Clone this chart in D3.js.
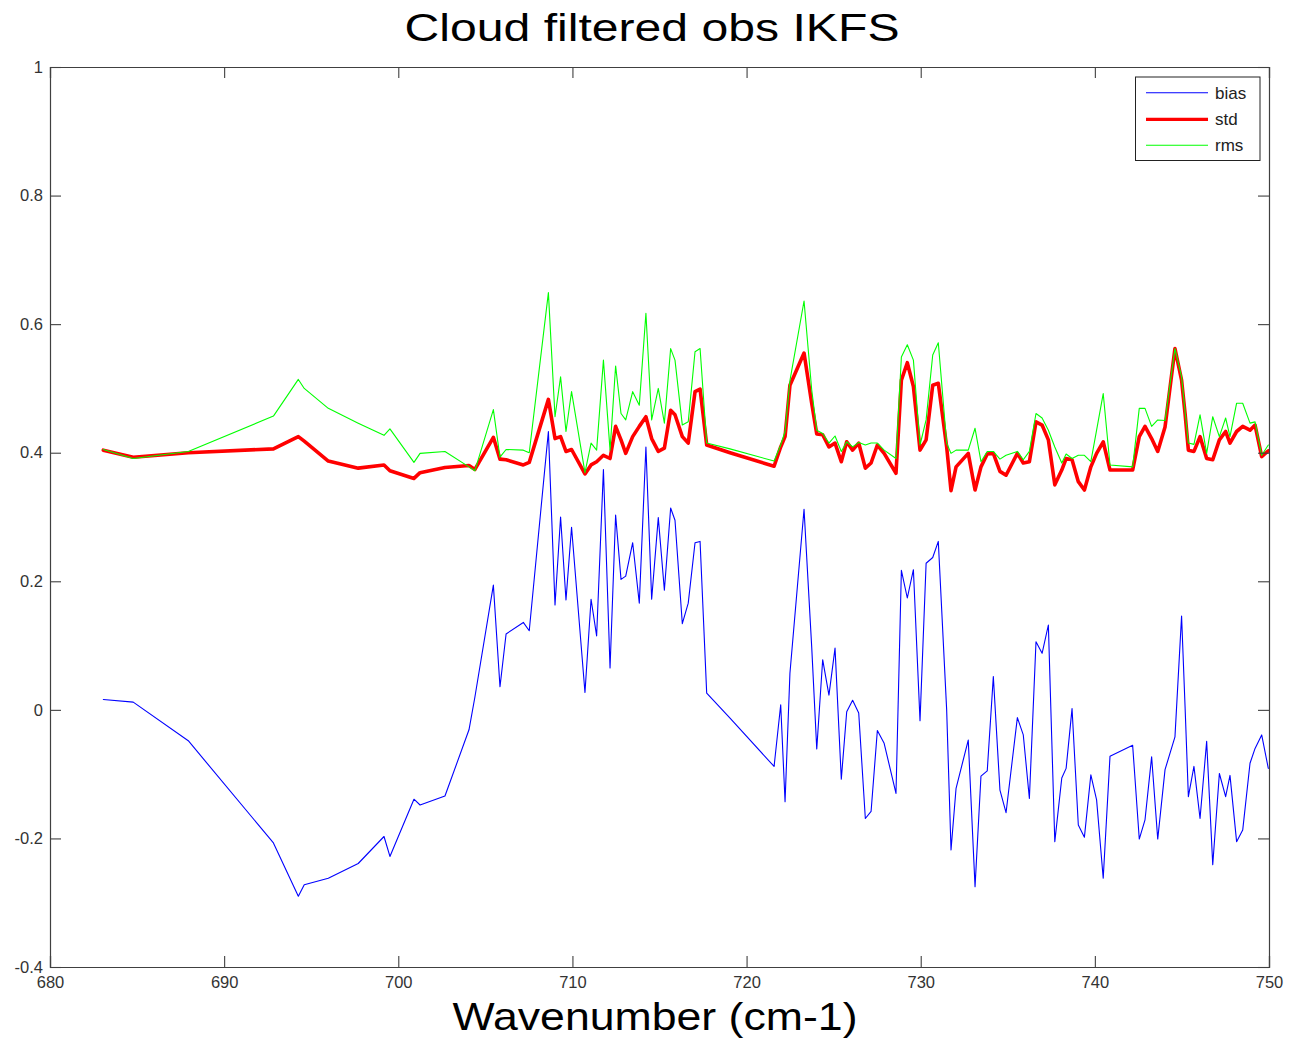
<!DOCTYPE html>
<html>
<head>
<meta charset="utf-8">
<script src="https://cdn.jsdelivr.net/npm/d3@7"></script>
<style>
  html, body { margin: 0; padding: 0; background: #fff; }
  svg { display: block; font-family: "Liberation Sans", Arial, Helvetica, sans-serif; }
</style>
</head>
<body>
<svg id="chart" width="1291" height="1045"></svg>
<script>
const wavenumber = [
  683.06, 684.78, 687.94, 692.83, 694.26, 694.60, 695.98, 697.70, 699.18, 699.52,
  700.90, 701.25, 702.68, 704.06, 704.40, 705.46, 705.84, 706.19, 707.18, 707.52,
  708.62, 709.00, 709.32, 709.63, 709.95, 710.72, 711.07, 711.39, 711.78, 712.16,
  712.48, 712.79, 713.06, 713.46, 713.84, 714.22, 714.55, 714.93, 715.28, 715.64,
  715.89, 716.31, 716.65, 717.04, 717.33, 717.71, 719.05, 721.58, 721.96, 722.21,
  722.49, 723.30, 723.74, 724.03, 724.37, 724.73, 725.08, 725.44, 725.75, 726.09,
  726.44, 726.82, 727.15, 727.51, 727.90, 728.58, 728.89, 729.23, 729.58, 729.96,
  730.31, 730.69, 731.01, 731.49, 731.74, 732.03, 732.73, 733.12, 733.46, 733.82,
  734.17, 734.55, 734.90, 735.55, 735.89, 736.24, 736.62, 736.97, 737.33, 737.70,
  738.10, 738.35, 738.69, 739.05, 739.40, 739.77, 740.10, 740.48, 740.87, 742.17,
  742.55, 742.88, 743.26, 743.61, 744.03, 744.60, 744.98, 745.18, 745.37, 745.69,
  746.04, 746.42, 746.77, 747.15, 747.51, 747.76, 748.14, 748.49, 748.91, 749.20,
  749.58, 749.96
];
const bias = [
  0.016, 0.012, -0.048, -0.207, -0.290, -0.272, -0.262, -0.239, -0.197, -0.228,
  -0.139, -0.148, -0.134, -0.031, 0.020, 0.194, 0.036, 0.118, 0.136, 0.123,
  0.433, 0.163, 0.300, 0.171, 0.284, 0.027, 0.172, 0.115, 0.374, 0.065,
  0.303, 0.203, 0.208, 0.260, 0.166, 0.409, 0.172, 0.299, 0.186, 0.314,
  0.295, 0.134, 0.166, 0.260, 0.262, 0.026, -0.013, -0.088, 0.008, -0.143,
  0.057, 0.312, 0.098, -0.061, 0.078, 0.023, 0.096, -0.108, -0.003, 0.015,
  -0.005, -0.169, -0.158, -0.032, -0.052, -0.130, 0.217, 0.174, 0.218, -0.017,
  0.228, 0.237, 0.262, 0.000, -0.218, -0.122, -0.047, -0.275, -0.103, -0.095,
  0.052, -0.125, -0.160, -0.012, -0.039, -0.138, 0.106, 0.088, 0.132, -0.205,
  -0.106, -0.091, 0.002, -0.179, -0.198, -0.101, -0.140, -0.262, -0.072, -0.055,
  -0.201, -0.171, -0.073, -0.201, -0.093, -0.042, 0.146, 0.005, -0.135, -0.088,
  -0.169, -0.049, -0.241, -0.099, -0.135, -0.102, -0.205, -0.187, -0.083, -0.060,
  -0.039, -0.091
];
const stdev = [
  0.404, 0.393, 0.400, 0.406, 0.425, 0.418, 0.387, 0.376, 0.381, 0.372,
  0.360, 0.369, 0.377, 0.380, 0.374, 0.424, 0.390, 0.389, 0.381, 0.385,
  0.483, 0.422, 0.425, 0.402, 0.405, 0.367, 0.381, 0.386, 0.396, 0.391,
  0.441, 0.420, 0.399, 0.425, 0.441, 0.456, 0.422, 0.402, 0.407, 0.466,
  0.459, 0.425, 0.415, 0.495, 0.499, 0.412, 0.400, 0.379, 0.409, 0.425,
  0.505, 0.555, 0.477, 0.429, 0.428, 0.409, 0.415, 0.386, 0.417, 0.404,
  0.415, 0.376, 0.384, 0.412, 0.399, 0.368, 0.513, 0.540, 0.503, 0.404,
  0.420, 0.505, 0.508, 0.409, 0.341, 0.378, 0.399, 0.342, 0.378, 0.398,
  0.399, 0.371, 0.365, 0.399, 0.384, 0.386, 0.448, 0.443, 0.420, 0.350,
  0.373, 0.391, 0.389, 0.355, 0.342, 0.378, 0.399, 0.417, 0.373, 0.373,
  0.425, 0.441, 0.422, 0.402, 0.440, 0.562, 0.513, 0.461, 0.404, 0.402,
  0.425, 0.391, 0.389, 0.420, 0.433, 0.415, 0.433, 0.441, 0.435, 0.443,
  0.394, 0.403
];
const rms = [
  0.405, 0.391, 0.402, 0.457, 0.514, 0.500, 0.469, 0.446, 0.427, 0.437,
  0.385, 0.399, 0.402, 0.378, 0.372, 0.467, 0.393, 0.405, 0.404, 0.400,
  0.649, 0.456, 0.518, 0.433, 0.495, 0.369, 0.415, 0.404, 0.544, 0.404,
  0.535, 0.461, 0.451, 0.495, 0.474, 0.617, 0.451, 0.500, 0.446, 0.562,
  0.544, 0.443, 0.448, 0.557, 0.562, 0.415, 0.406, 0.387, 0.412, 0.433,
  0.512, 0.636, 0.498, 0.435, 0.430, 0.415, 0.426, 0.402, 0.417, 0.409,
  0.416, 0.412, 0.415, 0.415, 0.404, 0.391, 0.549, 0.568, 0.544, 0.412,
  0.451, 0.552, 0.571, 0.415, 0.399, 0.404, 0.404, 0.438, 0.386, 0.402,
  0.402, 0.390, 0.396, 0.402, 0.389, 0.402, 0.461, 0.454, 0.435, 0.409,
  0.384, 0.398, 0.391, 0.396, 0.396, 0.386, 0.435, 0.492, 0.381, 0.378,
  0.469, 0.469, 0.441, 0.451, 0.450, 0.562, 0.518, 0.464, 0.415, 0.413,
  0.459, 0.399, 0.456, 0.425, 0.454, 0.425, 0.477, 0.477, 0.446, 0.448,
  0.396, 0.412
];
const xTicks = [680, 690, 700, 710, 720, 730, 740, 750];
const yTicks = [-0.4, -0.2, 0, 0.2, 0.4, 0.6, 0.8, 1];
const yTickLabels = ["-0.4", "-0.2", "0", "0.2", "0.4", "0.6", "0.8", "1"];
const seriesNames = ["bias", "std", "rms"];
const seriesColors = ["#0000ff", "#ff0000", "#00ff00"];
const seriesWidths = [1.1, 3.6, 1.1];
const titleText = "Cloud filtered obs IKFS";
const xLabelText = "Wavenumber (cm-1)";

const svg = d3.select("#chart");
const L = 50, R = 1269, T = 67, B = 967;
const x = d3.scaleLinear().domain([680, 750]).range([L, R]);
const y = d3.scaleLinear().domain([-0.4, 1]).range([B, T]);
const axisColor = "#404040";
const tickLen = 11;

svg.append("rect").attr("x", 0).attr("y", 0).attr("width", 1291).attr("height", 1045).attr("fill", "#fff");

svg.append("defs").append("clipPath").attr("id", "clip")
  .append("rect").attr("x", L).attr("y", T).attr("width", R - L).attr("height", B - T);

// data lines
const seriesData = [bias, stdev, rms];
const lineGen = vals => d3.line().x((d, i) => x(wavenumber[i])).y(d => y(d))(vals);
const g = svg.append("g").attr("clip-path", "url(#clip)");
seriesData.forEach((vals, k) => {
  g.append("path").attr("d", lineGen(vals))
    .attr("fill", "none").attr("stroke", seriesColors[k])
    .attr("stroke-width", seriesWidths[k])
    .attr("stroke-linejoin", "round").attr("stroke-linecap", "round");
});

// axes (MATLAB box style, ticks inside)
const yFmt = d => yTickLabels[yTicks.findIndex(t => Math.abs(t - d) < 1e-9)];
const axB = d3.axisBottom(x).tickValues(xTicks).tickSize(-tickLen).tickPadding(9).tickFormat(d3.format("d"));
const axT = d3.axisTop(x).tickValues(xTicks).tickSize(-tickLen).tickFormat("");
const axL = d3.axisLeft(y).tickValues(yTicks).tickSize(-tickLen).tickPadding(7).tickFormat(yFmt);
const axR = d3.axisRight(y).tickValues(yTicks).tickSize(-tickLen).tickFormat("");

function style(sel) {
  sel.select(".domain").attr("stroke", axisColor).attr("stroke-width", 1.2);
  sel.selectAll(".tick line").attr("stroke", axisColor).attr("stroke-width", 1.1);
  sel.selectAll(".tick text").attr("fill", "#333").style("font-size", "16.5px")
    .style("font-family", '"Liberation Sans", Arial, sans-serif');
}
svg.append("g").attr("transform", `translate(0,${B})`).call(axB).call(style);
svg.append("g").attr("transform", `translate(0,${T})`).call(axT).call(style);
svg.append("g").attr("transform", `translate(${L},0)`).call(axL).call(style);
svg.append("g").attr("transform", `translate(${R},0)`).call(axR).call(style);

// title and x label
svg.append("text").attr("x", 652).attr("y", 41).attr("text-anchor", "middle")
  .style("font-size", "39px").attr("fill", "#000")
  .attr("textLength", 495).attr("lengthAdjust", "spacingAndGlyphs")
  .text(titleText);
svg.append("text").attr("x", 655).attr("y", 1030).attr("text-anchor", "middle")
  .style("font-size", "39px").attr("fill", "#000")
  .attr("textLength", 405).attr("lengthAdjust", "spacingAndGlyphs")
  .text(xLabelText);

// legend
const lg = svg.append("g");
lg.append("rect").attr("x", 1135.5).attr("y", 77).attr("width", 124.5).attr("height", 83.5)
  .attr("fill", "#fff").attr("stroke", "#222").attr("stroke-width", 1);
const legendY = [92.7, 119.3, 145.3];
seriesNames.forEach((name, k) => {
  lg.append("line").attr("x1", 1146).attr("x2", 1208)
    .attr("y1", legendY[k]).attr("y2", legendY[k])
    .attr("stroke", seriesColors[k]).attr("stroke-width", k === 1 ? 3.2 : 1.1);
  lg.append("text").attr("x", 1215).attr("y", legendY[k] + 6)
    .style("font-size", "17px").attr("fill", "#222").text(name);
});
</script>
</body>
</html>
